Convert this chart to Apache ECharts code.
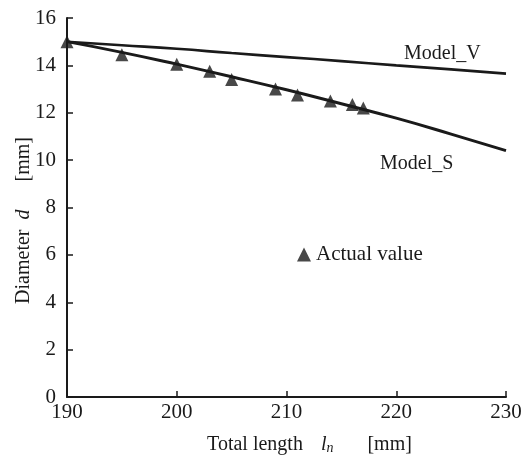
<!DOCTYPE html>
<html>
<head>
<meta charset="utf-8">
<script src="https://cdn.jsdelivr.net/npm/echarts@6/dist/echarts.min.js"></script>
<style>
  html, body { margin: 0; padding: 0; background: #fff; }
  #chart { width: 526px; height: 462px; }
</style>
</head>
<body>
<div id="chart"></div>
<script>
// Total length (mm) and measured diameter (mm)
const actualLength = [190, 195, 200, 203, 205, 209, 211, 214, 216, 217];
const actualDiameter = [15.0, 14.45, 14.05, 13.75, 13.4, 13.0, 12.75, 12.5, 12.35, 12.2];

// Model curves sampled along total length
const modelLength = [190, 195, 200, 205, 210, 215, 220, 225, 230];
const modelV = [15.0, 14.85, 14.7, 14.52, 14.35, 14.18, 14.0, 13.83, 13.65];
const modelS = [15.0, 14.55, 14.05, 13.52, 12.97, 12.38, 11.77, 11.1, 10.4];

const yTicks = [0, 2, 4, 6, 8, 10, 12, 14, 16];
const xTicks = [190, 200, 210, 220, 230];

const FONT = '"Liberation Serif", "DejaVu Serif", serif';
const INK = '#1a1a1a';

const zip = (xs, ys) => xs.map((x, i) => [x, ys[i]]);

const chart = echarts.init(document.getElementById('chart'));
chart.setOption({
  animation: false,
  backgroundColor: '#ffffff',
  textStyle: { fontFamily: FONT, color: INK },
  grid: { left: 67, right: 20, top: 18, bottom: 65 },
  legend: {
    data: ['Actual value'],
    left: 292, top: 239,
    itemWidth: 14, itemHeight: 14, itemGap: 8,
    textStyle: { fontFamily: FONT, fontSize: 21, color: INK },
    icon: 'triangle'
  },
  xAxis: {
    type: 'value',
    min: xTicks[0], max: xTicks[xTicks.length - 1], interval: 10,
    axisLine: { show: true, lineStyle: { color: INK, width: 2 } },
    axisTick: { show: true, inside: true, length: 6, lineStyle: { color: INK, width: 1.5 } },
    splitLine: { show: false },
    axisLabel: { fontFamily: FONT, fontSize: 21, color: INK, margin: 5 },
    name: '{n|Total length}{i|l}{s|n}{m|[mm]}',
    nameLocation: 'middle', nameGap: 38,
    nameTextStyle: {
      padding: [0, 0, 0, 46],
      rich: {
        n: { fontFamily: FONT, fontSize: 20, color: INK },
        i: { fontFamily: FONT, fontSize: 20, fontStyle: 'italic', color: INK, padding: [0, 0, 0, 18] },
        s: { fontFamily: FONT, fontSize: 14, fontStyle: 'italic', color: INK, verticalAlign: 'bottom', padding: [6, 0, 0, 0] },
        m: { fontFamily: FONT, fontSize: 20, color: INK, padding: [0, 0, 0, 34] }
      }
    }
  },
  yAxis: {
    type: 'value',
    min: yTicks[0], max: yTicks[yTicks.length - 1], interval: 2,
    axisLine: { show: true, lineStyle: { color: INK, width: 2 } },
    axisTick: { show: true, inside: true, length: 6, lineStyle: { color: INK, width: 1.5 } },
    splitLine: { show: false },
    axisLabel: { fontFamily: FONT, fontSize: 21, color: INK, margin: 11 },
    name: '{n|Diameter}{i|d}{m|[mm]}',
    nameLocation: 'middle', nameGap: 33, nameRotate: 90,
    nameMoveOverlap: false,
    nameTextStyle: {
      padding: [0, 26, 0, 0],
      rich: {
        n: { fontFamily: FONT, fontSize: 20, color: INK },
        i: { fontFamily: FONT, fontSize: 20, fontStyle: 'italic', color: INK, padding: [0, 0, 0, 10] },
        m: { fontFamily: FONT, fontSize: 20, color: INK, padding: [0, 0, 0, 28] }
      }
    }
  },
  series: [
    {
      name: 'Model_V', type: 'line', smooth: true, symbol: 'none',
      lineStyle: { color: INK, width: 2.6 },
      data: zip(modelLength, modelV),
      endLabel: {
        show: true, formatter: 'Model_V', fontFamily: FONT, fontSize: 20, color: INK,
        offset: [-110, -20]
      }
    },
    {
      name: 'Model_S', type: 'line', smooth: true, symbol: 'none',
      lineStyle: { color: INK, width: 2.9 },
      data: zip(modelLength, modelS),
      endLabel: {
        show: true, formatter: 'Model_S', fontFamily: FONT, fontSize: 20, color: INK,
        offset: [-134, 13]
      }
    },
    {
      name: 'Actual value', type: 'scatter', symbol: 'triangle', symbolSize: 13,
      itemStyle: { color: INK },
      data: zip(actualLength, actualDiameter)
    }
  ]
});
</script>
</body>
</html>
